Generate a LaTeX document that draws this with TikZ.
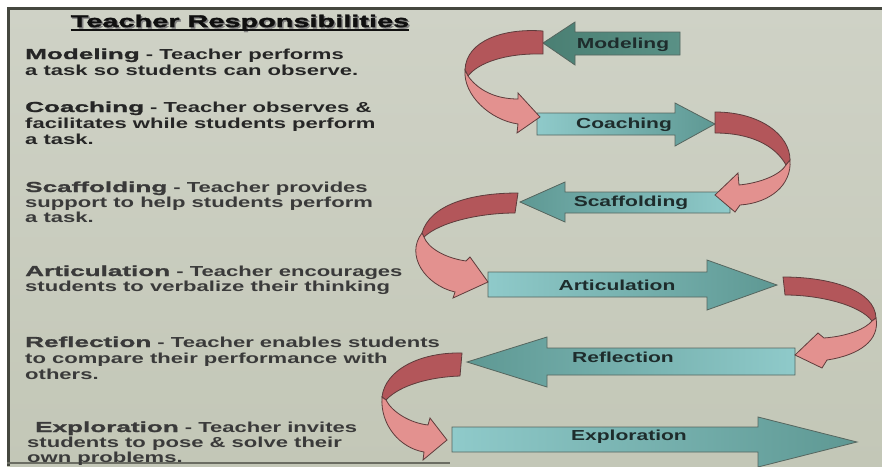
\documentclass[tikz,border=0pt]{standalone}
\usepackage{fontspec}
\setmainfont{Liberation Sans}
\newfontfamily\descfont[FakeStretch=1.52]{Liberation Sans}
\newfontfamily\termfont[FakeStretch=1.8,FakeBold=1.5]{Liberation Sans}
\newfontfamily\titlefont[FakeStretch=1.7,FakeBold=2]{Liberation Sans}
\newfontfamily\labelfont[FakeStretch=1.45]{Liberation Sans}

\definecolor{bgtop}{HTML}{CFD2C6}
\definecolor{bgbot}{HTML}{C3C7B7}
\definecolor{frame}{HTML}{45473F}
\definecolor{shaftlight}{HTML}{8FCACA}
\definecolor{headdark}{HTML}{5E9893}
\definecolor{deeplight}{HTML}{5A9186}
\definecolor{deepdark}{HTML}{4A7F73}
\definecolor{edgegrey}{HTML}{56665F}
\definecolor{ribdark}{HTML}{B3565A}
\definecolor{ribpink}{HTML}{E3918F}
\definecolor{ribedge}{HTML}{5E3C3C}
\definecolor{desccol}{HTML}{262626}
\definecolor{desclow}{HTML}{3A3A3A}
\definecolor{termcol}{HTML}{101010}
\definecolor{labelcol}{HTML}{1E2C2C}

\newcommand{\term}[1]{{\termfont\bfseries #1}}

\tikzset{
  x=1pt, y=-1pt,
  flow/.style={draw=edgegrey, line width=0.8pt, line join=miter},
  rarrow/.style={flow, left color=shaftlight, right color=headdark},
  larrow/.style={flow, left color=headdark, right color=shaftlight},
  ribtop/.style={draw=ribedge, line width=0.8pt, fill=ribdark, line join=round},
  ribbot/.style={draw=ribedge, line width=0.8pt, fill=ribpink, line join=miter},
  desc/.style={anchor=base west, inner sep=0pt, text=desccol,
    font=\descfont\bfseries\fontsize{14.5}{16}\selectfont},
  lbl/.style={anchor=base, inner sep=0pt, text=labelcol,
    font=\labelfont\bfseries\fontsize{14.5}{16}\selectfont},
}

\begin{document}
\begin{tikzpicture}
\useasboundingbox (0,0) rectangle (882,466);
\clip (0,0) rectangle (882,466);

% screen and its frame
\fill[white] (0,0) rectangle (882,466);
\shade[top color=bgtop, bottom color=bgbot] (7,8) rectangle (882,466);
\fill[frame] (7,7) rectangle (882,9.5);
\fill[frame] (7,7) rectangle (10,466);
\fill[frame!70!bgbot] (7,462) rectangle (450,464);

% title
\node[anchor=base, inner sep=0pt, text=gray, font=\titlefont\bfseries\fontsize{17}{19}\selectfont]
  (titleshadow) at (241.5,28.5) {Teacher Responsibilities};
\node[anchor=base, inner sep=0pt, text=termcol, font=\titlefont\bfseries\fontsize{17}{19}\selectfont]
  (title) at (240,27) {Teacher Responsibilities};
\draw[line width=1.6pt, termcol] ([yshift=-3pt]title.base west) -- ([yshift=-3pt]title.base east);

% descriptions
\node[desc] (m1) at (25,59) {\term{Modeling} - Teacher performs};
\node[desc] (m2) at (25,75) {a task so students can observe.};
\node[desc] (c1) at (25,112) {\term{Coaching} - Teacher observes \&};
\node[desc] (c2) at (25,128) {facilitates while students perform};
\node[desc] (c3) at (25,144) {a task.};
\node[desc, text=desclow] (s1) at (25,192) {\term{Scaffolding} - Teacher provides};
\node[desc, text=desclow] (s2) at (25,207) {support to help students perform};
\node[desc, text=desclow] (s3) at (25,222) {a task.};
\node[desc, text=desclow] (a1) at (25,276) {\term{Articulation} - Teacher encourages};
\node[desc, text=desclow] (a2) at (25,291) {students to verbalize their thinking};
\node[desc, text=desclow] (r1) at (25,347) {\term{Reflection} - Teacher enables students};
\node[desc, text=desclow] (r2) at (25,363) {to compare their performance with};
\node[desc, text=desclow] (r3) at (25,379) {others.};
\node[desc, text=desclow] (e1) at (35,432) {\term{Exploration} - Teacher invites};
\node[desc, text=desclow] (e2) at (27,447) {students to pose \& solve their};
\node[desc, text=desclow] (e3) at (27,462) {own problems.};

% block arrows
\path[flow, left color=deepdark, right color=deeplight]
  (680,32) -- (575,32) -- (575,22) -- (543,43) -- (575,65) -- (575,55) -- (680,55) -- cycle;
\path[rarrow]
  (537,113) -- (675,113) -- (675,103) -- (715,124) -- (675,146) -- (675,135) -- (537,135) -- cycle;
\path[larrow]
  (730,192) -- (565,192) -- (565,182) -- (520,202) -- (565,222) -- (565,213) -- (730,213) -- cycle;
\path[rarrow]
  (488,272) -- (707,272) -- (707,260) -- (777,285) -- (707,310) -- (707,297) -- (488,297) -- cycle;
\path[larrow]
  (795,348) -- (547,348) -- (547,337) -- (467,362) -- (547,387) -- (547,375) -- (795,375) -- cycle;
\path[rarrow]
  (452,427) -- (758,427) -- (758,417) -- (857,442) -- (758,467) -- (758,452) -- (452,452) -- cycle;

% arrow labels
\node[lbl] (lmod) at (623,48) {Modeling};
\node[lbl] (lcoa) at (624,128) {Coaching};
\node[lbl] (lsca) at (631,206) {Scaffolding};
\node[lbl] (lart) at (617,290) {Articulation};
\node[lbl] (lref) at (623,362) {Reflection};
\node[lbl] (lexp) at (629,440) {Exploration};

% turning ribbons between the rows
% Modeling -> Coaching
\path[ribtop] (543,31) .. controls (505,28) and (466,40) .. (465,70) -- (468,76)
  .. controls (478,63) and (505,53) .. (543,54) -- cycle;
\path[ribbot] (465,70) .. controls (463,95) and (490,120) .. (518,124) -- (517,133) -- (540,117)
  -- (518,93) -- (518,99) .. controls (495,99) and (478,90) .. (468,76) -- cycle;
% Coaching -> Scaffolding
\path[ribtop] (715,112) .. controls (760,112) and (790,135) .. (790,160) -- (786,165)
  .. controls (775,145) and (750,133) .. (715,133) -- cycle;
\path[ribbot] (790,160) .. controls (792,185) and (770,203) .. (740,205) -- (735,212) -- (715,195)
  -- (738,173) -- (739,185) .. controls (760,183) and (780,175) .. (786,165) -- cycle;
% Scaffolding -> Articulation
\path[ribtop] (518,193) .. controls (470,193) and (430,205) .. (422,233) -- (424,237)
  .. controls (440,222) and (480,213) .. (515,213) -- cycle;
\path[ribbot] (422,233) .. controls (405,255) and (425,285) .. (455,292) -- (453,298) -- (488,282)
  -- (470,257) -- (466,261) .. controls (445,258) and (428,248) .. (424,237) -- cycle;
% Articulation -> Reflection
\path[ribtop] (783,277) .. controls (830,277) and (875,290) .. (876,318) -- (872,321)
  .. controls (860,305) and (820,295) .. (785,295) -- cycle;
\path[ribbot] (876,318) .. controls (880,340) and (860,355) .. (827,360) -- (822,368) -- (795,355)
  -- (818,333) -- (824,338) .. controls (850,336) and (866,328) .. (872,321) -- cycle;
% Reflection -> Exploration
\path[ribtop] (462,353) .. controls (420,352) and (385,370) .. (382,397) -- (386,400)
  .. controls (400,385) and (430,377) .. (460,376) -- cycle;
\path[ribbot] (382,397) .. controls (380,425) and (400,448) .. (424,452) -- (423,460) -- (447,440)
  -- (430,418) -- (428,425) .. controls (410,423) and (392,412) .. (386,400) -- cycle;
\end{tikzpicture}
\end{document}
